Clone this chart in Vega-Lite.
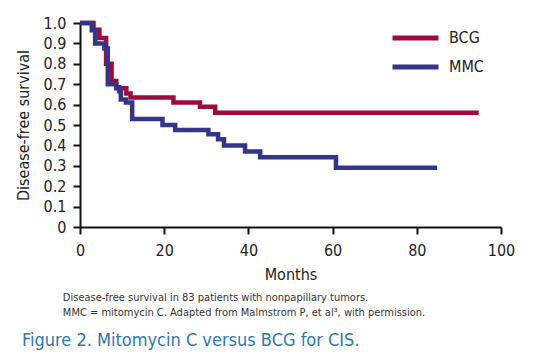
{
  "$schema": "https://vega.github.io/schema/vega-lite/v6.json",
  "width": 421,
  "height": 204,
  "autosize": "none",
  "padding": {"left": 80, "top": 23, "right": 32, "bottom": 133},
  "background": "white",
  "config": {
    "font": "DejaVu Sans Condensed, Roboto",
    "view": {"stroke": null},
    "axis": {
      "grid": false,
      "domainColor": "#111",
      "domainWidth": 2,
      "tickColor": "#111",
      "tickWidth": 2,
      "tickSize": 7,
      "labelFontSize": 16,
      "labelColor": "#222",
      "labelFont": "DejaVu Sans Condensed, Roboto",
      "titleFont": "DejaVu Sans Condensed, Roboto",
      "titleFontSize": 16,
      "titleFontWeight": "normal",
      "titleColor": "#222"
    }
  },
  "title": {
    "text": [
      "\u200c\u00a0\u00a0\u00a0\u00a0\u00a0\u00a0\u00a0\u00a0\u00a0\u00a0\u00a0\u00a0\u00a0Disease-free survival in 83 patients with nonpapillary tumors.",
      "\u200c\u00a0\u00a0\u00a0\u00a0\u00a0\u00a0\u00a0\u00a0\u00a0\u00a0\u00a0\u00a0\u00a0MMC = mitomycin C. Adapted from Malmstrom P, et al³, with permission."
    ],
    "subtitle": "Figure 2. Mitomycin C versus BCG for CIS.",
    "orient": "bottom",
    "anchor": "start",
    "frame": "group",
    "dx": -58,
    "offset": 10,
    "font": "DejaVu Sans Condensed, Roboto",
    "fontSize": 11,
    "fontWeight": "normal",
    "color": "#333",
    "lineHeight": 15,
    "subtitleFont": "DejaVu Sans Condensed, Roboto",
    "subtitleFontSize": 18,
    "subtitleColor": "#2b78b4",
    "subtitlePadding": 14
  },
  "data": {
    "values": [
      {"group": "BCG", "month": 0, "surv": 1.0},
      {"group": "BCG", "month": 3.2, "surv": 0.967},
      {"group": "BCG", "month": 4.6, "surv": 0.926},
      {"group": "BCG", "month": 6.2, "surv": 0.8},
      {"group": "BCG", "month": 7.5, "surv": 0.716},
      {"group": "BCG", "month": 8.6, "surv": 0.68},
      {"group": "BCG", "month": 11.0, "surv": 0.655},
      {"group": "BCG", "month": 12.0, "surv": 0.635},
      {"group": "BCG", "month": 22.2, "surv": 0.61},
      {"group": "BCG", "month": 28.5, "surv": 0.59},
      {"group": "BCG", "month": 32.1, "surv": 0.56},
      {"group": "BCG", "month": 94.7, "surv": 0.56},
      {"group": "MMC", "month": 0, "surv": 1.0},
      {"group": "MMC", "month": 2.8, "surv": 0.965},
      {"group": "MMC", "month": 3.6, "surv": 0.9},
      {"group": "MMC", "month": 5.8, "surv": 0.875},
      {"group": "MMC", "month": 6.6, "surv": 0.7},
      {"group": "MMC", "month": 8.6, "surv": 0.685},
      {"group": "MMC", "month": 9.3, "surv": 0.665},
      {"group": "MMC", "month": 9.7, "surv": 0.625},
      {"group": "MMC", "month": 10.9, "surv": 0.61},
      {"group": "MMC", "month": 12.4, "surv": 0.53},
      {"group": "MMC", "month": 19.6, "surv": 0.5},
      {"group": "MMC", "month": 22.6, "surv": 0.475},
      {"group": "MMC", "month": 30.5, "surv": 0.455},
      {"group": "MMC", "month": 32.8, "surv": 0.43},
      {"group": "MMC", "month": 34.2, "surv": 0.4},
      {"group": "MMC", "month": 39.2, "surv": 0.37},
      {"group": "MMC", "month": 42.8, "surv": 0.342},
      {"group": "MMC", "month": 60.8, "surv": 0.29},
      {"group": "MMC", "month": 84.8, "surv": 0.29}
    ]
  },
  "mark": {"type": "line", "interpolate": "step-after", "strokeWidth": 4.5, "strokeCap": "butt", "strokeJoin": "miter"},
  "encoding": {
    "x": {
      "field": "month",
      "type": "quantitative",
      "scale": {"domain": [0, 100], "nice": false},
      "axis": {"values": [0, 20, 40, 60, 80, 100], "title": "Months", "labelPadding": 8, "titlePadding": 8, "labelFlush": false}
    },
    "y": {
      "field": "surv",
      "type": "quantitative",
      "scale": {"domain": [0, 1], "nice": false},
      "axis": {
        "values": [0, 0.1, 0.2, 0.3, 0.4, 0.5, 0.6, 0.7, 0.8, 0.9, 1.0],
        "labelExpr": "datum.value == 0 ? '0' : format(datum.value, '.1f')",
        "title": "Disease-free survival",
        "labelPadding": 7,
        "titlePadding": 12,
        "labelFlush": false
      }
    },
    "color": {
      "field": "group",
      "type": "nominal",
      "scale": {"domain": ["BCG", "MMC"], "range": ["#9c0b3b", "#36338a"]},
      "legend": {
        "title": null,
        "orient": "none",
        "legendX": 310,
        "legendY": 7,
        "symbolType": "stroke",
        "symbolSize": 2116,
        "symbolStrokeWidth": 5,
        "clipHeight": 16,
        "labelFontSize": 16,
        "labelFont": "DejaVu Sans Condensed, Roboto",
        "labelColor": "#222",
        "labelOffset": 8,
        "rowPadding": 13
      }
    }
  }
}
